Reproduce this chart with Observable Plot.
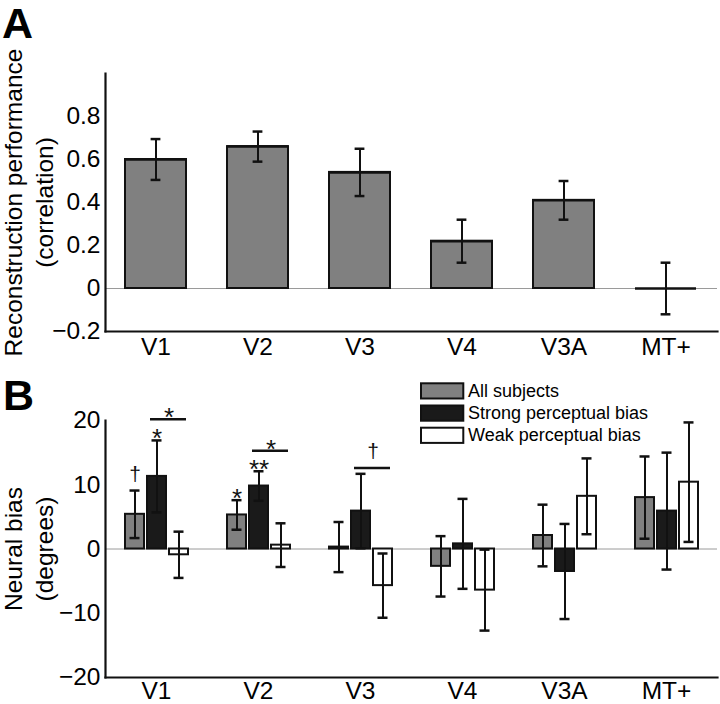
<!DOCTYPE html>
<html><head><meta charset="utf-8">
<script src="https://cdn.jsdelivr.net/npm/d3@7"></script>
<script src="https://cdn.jsdelivr.net/npm/@observablehq/plot@0.6"></script>
<style>
html,body{margin:0;padding:0;background:#fff;}
#fig{position:relative;width:720px;height:704px;overflow:hidden;font-family:"Liberation Sans",Arial,sans-serif;background:#fff;}
#fig > svg{position:absolute;left:0;}
</style></head><body><div id="fig"></div>
<script>
// ---- Data ----
const regions = ["V1", "V2", "V3", "V4", "V3A", "MT+"];

// Panel A: reconstruction performance (correlation)
const perfMean = [0.60, 0.66, 0.54, 0.22, 0.41, 0.00];
const perfErr  = [0.095, 0.07, 0.11, 0.10, 0.09, 0.12];
const perfTicks = [-0.2, 0, 0.2, 0.4, 0.6, 0.8];

// Panel B: neural bias (degrees)
const groups = ["All subjects", "Strong perceptual bias", "Weak perceptual bias"];
const groupColors = ["#808080", "#1a1a1a", "#ffffff"];
const biasAll    = [5.4, 5.3, 0.3, -2.7, 2.1, 8.0];
const errAll     = [3.7, 2.3, 3.9, 4.7, 4.8, 6.4];
const biasStrong = [11.3, 9.8, 5.9, 0.8, -3.5, 5.9];
const errStrong  = [5.6, 2.3, 5.8, 7.0, 7.4, 9.1];
const biasWeak   = [-0.9, 0.6, -5.7, -6.4, 8.2, 10.4];
const errWeak    = [3.6, 3.4, 5.0, 6.3, 5.9, 9.3];
const biasTicks = [-20, -10, 0, 10, 20];

// significance marks above single bars
const sigRegion = ["V1", "V1", "V2", "V2"];
const sigGroup  = [0, 1, 0, 1];
const sigSymbol = ["†", "*", "*", "**"];
// comparison brackets (strong vs weak)
const brRegion = ["V1", "V2", "V3"];
const brLevel  = [20.2, 15.3, 12.6];
const brSymbol = ["*", "*", "†"];

// ---- Build tables ----
const dataA = regions.map((r, i) => ({region: r, value: perfMean[i], lo: perfMean[i] - perfErr[i], hi: perfMean[i] + perfErr[i]}));
const gVals = [biasAll, biasStrong, biasWeak];
const gErrs = [errAll, errStrong, errWeak];
const dataB = groups.flatMap((g, gi) => regions.map((r, ri) => ({
  region: r, group: g, value: gVals[gi][ri],
  lo: gVals[gi][ri] - gErrs[gi][ri], hi: gVals[gi][ri] + gErrs[gi][ri]
})));
const sigData = sigRegion.map((r, i) => {
  const ri = regions.indexOf(r), gi = sigGroup[i];
  return {region: r, group: groups[gi], y: gVals[gi][ri] + gErrs[gi][ri], symbol: sigSymbol[i]};
});
const brData = brRegion.map((r, i) => ({region: r, level: brLevel[i], symbol: brSymbol[i]}));

const FONT = "'Liberation Sans', Arial, sans-serif";
const fmt = d3.format("~g");
const fig = document.getElementById("fig");

// ---- Panel A ----
const chartA = Plot.plot({
  width: 720, height: 360,
  marginLeft: 105, marginRight: 3, marginTop: 73, marginBottom: 29,
  style: {fontFamily: FONT, fontSize: "24.5px", color: "black", background: "transparent", overflow: "visible"},
  x: {domain: regions, paddingInner: 0.4, paddingOuter: 0.2, tickSize: 0, tickPadding: 6, label: null},
  y: {domain: [-0.2, 1.0], ticks: perfTicks, tickFormat: fmt, tickSize: 0, tickPadding: 5, label: null},
  marks: [
    Plot.ruleY([0], {stroke: "#9a9a9a", strokeWidth: 1}),
    Plot.barY(dataA, {x: "region", y: "value", fill: "#808080", stroke: "#111", strokeWidth: 2}),
    Plot.tickY(dataA, {x: "region", y: "value", stroke: "#111", strokeWidth: 2.5}),
    Plot.ruleX(dataA, {x: "region", y1: "lo", y2: "hi", stroke: "#111", strokeWidth: 2}),
    Plot.tickY(dataA, {x: "region", y: "hi", stroke: "#111", strokeWidth: 2.5, insetLeft: 25.6, insetRight: 25.6}),
    Plot.tickY(dataA, {x: "region", y: "lo", stroke: "#111", strokeWidth: 2.5, insetLeft: 25.6, insetRight: 25.6}),
    Plot.frame({anchor: "left", stroke: "#111", strokeWidth: 2.2}),
    Plot.frame({anchor: "bottom", stroke: "#111", strokeWidth: 2.2}),
    Plot.text(["Reconstruction performance\n(correlation)"], {text: d => d, frameAnchor: "left", rotate: -90, dx: -105, lineAnchor: "top", lineHeight: 1.26, fontSize: 24.5, textAnchor: "middle"})
  ]
});
chartA.style.top = "0px";
fig.appendChild(chartA);

// ---- Panel B ----
const chartB = Plot.plot({
  width: 720, height: 344,
  marginLeft: 105, marginRight: 3, marginTop: 60, marginBottom: 27,
  style: {fontFamily: FONT, fontSize: "24.5px", color: "black", background: "transparent", overflow: "visible"},
  fx: {domain: regions, padding: 0, axis: "bottom", tickSize: 0, tickPadding: 4, label: null},
  x: {domain: groups, paddingInner: 0.156, paddingOuter: 0.844, axis: null},
  y: {domain: [-20, 20], ticks: biasTicks, tickFormat: fmt, tickSize: 0, tickPadding: 5, label: null},
  color: {domain: groups, range: groupColors},
  marks: [
    Plot.ruleY([0], {stroke: "#9a9a9a", strokeWidth: 1}),
    Plot.barY(dataB, {fx: "region", x: "group", y: "value", fill: "group", stroke: "#111", strokeWidth: 2}),
    Plot.ruleX(dataB, {fx: "region", x: "group", y1: "lo", y2: "hi", stroke: "#111", strokeWidth: 2}),
    Plot.tickY(dataB, {fx: "region", x: "group", y: "hi", stroke: "#111", strokeWidth: 2.5, insetLeft: 4.5, insetRight: 4.5}),
    Plot.tickY(dataB, {fx: "region", x: "group", y: "lo", stroke: "#111", strokeWidth: 2.5, insetLeft: 4.5, insetRight: 4.5}),
    Plot.ruleY(brData, {fx: "region", x1: () => groups[1], x2: () => groups[2], y: "level", stroke: "#111", strokeWidth: 2.5, insetLeft: 3, insetRight: 2}),
    Plot.text(brData.filter(d => d.symbol.includes("*")), {fx: "region", x: () => groups[2], y: "level", text: "symbol", dx: -10, dy: 7, lineAnchor: "bottom", fontSize: 26, fill: "#111"}),
    Plot.text(brData.filter(d => d.symbol === "†"), {fx: "region", x: () => groups[2], y: "level", text: "symbol", dx: -10, dy: -10, lineAnchor: "bottom", fontSize: 21, fill: "#111"}),
    Plot.text(sigData.filter(d => d.symbol.includes("*")), {fx: "region", x: "group", y: "y", text: "symbol", dy: 7, lineAnchor: "bottom", fontSize: 26, fill: "#111"}),
    Plot.text(sigData.filter(d => d.symbol === "†"), {fx: "region", x: "group", y: "y", text: "symbol", dy: -10, lineAnchor: "bottom", fontSize: 21, fill: "#111"}),
    Plot.frame({anchor: "left", facet: "super", stroke: "#111", strokeWidth: 2.2}),
    Plot.frame({anchor: "bottom", facet: "super", stroke: "#111", strokeWidth: 2.2}),
    Plot.text(["Neural bias\n(degrees)"], {text: d => d, facet: "super", frameAnchor: "left", rotate: -90, dx: -105, lineAnchor: "top", lineHeight: 1.26, fontSize: 24.5, textAnchor: "middle"})
  ]
});
chartB.style.top = "360px";
fig.appendChild(chartB);

// ---- Panel letters & legend (overlay) ----
const ov = d3.select(fig).append("svg").attr("width", 720).attr("height", 704)
  .style("position", "absolute").style("left", "0px").style("top", "0px").style("pointer-events", "none")
  .style("font-family", FONT);
ov.append("text").attr("x", 2).attr("y", 38).attr("font-size", 43).attr("font-weight", "bold").text("A");
ov.append("text").attr("x", 3).attr("y", 410).attr("font-size", 43).attr("font-weight", "bold").text("B");
const leg = ov.append("g").attr("transform", "translate(421,383.3)");
groups.forEach((g, i) => {
  leg.append("rect").attr("x", 0).attr("y", i * 22.2).attr("width", 42.3).attr("height", 15.2)
    .attr("fill", groupColors[i]).attr("stroke", "#111").attr("stroke-width", 2);
  leg.append("text").attr("x", 47).attr("y", i * 22.2 + 13.4).attr("font-size", 18).text(g);
});
</script></body></html>
